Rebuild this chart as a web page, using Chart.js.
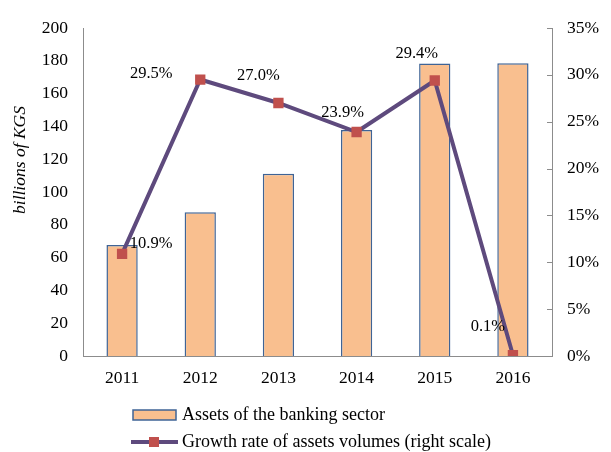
<!DOCTYPE html>
<html><head><meta charset="utf-8">
<script src="https://cdn.jsdelivr.net/npm/chart.js@4/dist/chart.umd.min.js"></script>
<style>html,body{margin:0;padding:0;background:#fff;}#wrap{width:611px;height:452px;}</style>
</head><body><div id="wrap"><canvas id="c" width="611" height="452"></canvas></div>
<script>
const years = ['2011','2012','2013','2014','2015','2016'];
const assets = [67.7, 87.6, 111.2, 137.8, 178.3, 178.5];
const growth = [10.9, 29.5, 27.0, 23.9, 29.4, 0.1];
const assetsLabel = 'Assets of the banking sector';
const growthLabel = 'Growth rate of assets volumes (right scale)';
const leftTitle = 'billions of KGS';

const FONT = '"Liberation Serif", "Times New Roman", serif';
const AXIS = '#8c8c8c';
// label placement offsets (style only)
const labelOffsets = [[29,-10],[-49,-6],[-20,-27],[-14,-19],[-18,-27],[-25,-28]];

const extras = {
  id: 'extras',
  afterDatasetsDraw(chart) {
    const ctx = chart.ctx;
    const meta = chart.getDatasetMeta(1);
    ctx.save();
    ctx.font = '16.5px ' + FONT;
    ctx.fillStyle = '#000';
    ctx.textAlign = 'center';
    ctx.textBaseline = 'middle';
    meta.data.forEach((pt, i) => {
      const o = labelOffsets[i];
      ctx.fillText(growth[i].toFixed(1) + '%', pt.x + o[0], pt.y + o[1]);
    });
    ctx.restore();
  },
  afterDraw(chart) {
    const ctx = chart.ctx;
    const a = chart.chartArea;
    const y1 = chart.scales.y1;
    ctx.save();
    ctx.strokeStyle = AXIS; ctx.lineWidth = 1;
    y1.ticks.forEach(t => {
      const py = Math.round(y1.getPixelForValue(t.value)) + 0.5;
      ctx.beginPath(); ctx.moveTo(a.right - 5, py); ctx.lineTo(a.right, py); ctx.stroke();
    });
    // left axis title
    ctx.save();
    ctx.translate(20, 160);
    ctx.rotate(-Math.PI / 2);
    ctx.font = 'italic 17.5px ' + FONT;
    ctx.fillStyle = '#000';
    ctx.textAlign = 'center';
    ctx.textBaseline = 'middle';
    ctx.fillText(leftTitle, 0, 0);
    ctx.restore();
    // legend
    const ds0 = chart.data.datasets[0], ds1 = chart.data.datasets[1];
    ctx.font = '18px ' + FONT;
    ctx.textBaseline = 'middle';
    ctx.textAlign = 'left';
    const lx = 133, ly1 = 415, ly2 = 442;
    ctx.fillStyle = ds0.backgroundColor;
    ctx.fillRect(lx, ly1 - 5, 43, 10);
    ctx.strokeStyle = ds0.borderColor; ctx.lineWidth = 1.5;
    ctx.strokeRect(lx, ly1 - 5, 43, 10);
    ctx.fillStyle = '#000';
    ctx.fillText(ds0.label, lx + 49, ly1);
    ctx.strokeStyle = ds1.borderColor; ctx.lineWidth = 4;
    ctx.beginPath(); ctx.moveTo(lx - 2, ly2); ctx.lineTo(lx + 45, ly2); ctx.stroke();
    ctx.fillStyle = ds1.pointBackgroundColor;
    ctx.fillRect(lx + 16, ly2 - 5, 10, 10);
    ctx.fillStyle = '#000';
    ctx.fillText(ds1.label, lx + 49, ly2);
    ctx.restore();
  }
};

new Chart(document.getElementById('c'), {
  data: {
    labels: years,
    datasets: [
      { type: 'bar', label: assetsLabel, data: assets, yAxisID: 'y',
        backgroundColor: '#F9BF8F', borderColor: '#3F6496', borderWidth: 1.5,
        barPercentage: 0.4, categoryPercentage: 1.0, order: 2 },
      { type: 'line', label: growthLabel, data: growth, yAxisID: 'y1',
        borderColor: '#5E4A7D', borderWidth: 4, tension: 0,
        pointStyle: 'rect', pointRadius: 7.3, pointBackgroundColor: '#C0504D',
        pointBorderColor: '#C0504D', pointBorderWidth: 0, order: 1 }
    ]
  },
  options: {
    responsive: false, animation: false,
    layout: { padding: { left: 0, right: 0, top: 28, bottom: 56 } },
    plugins: { legend: { display: false }, tooltip: { enabled: false } },
    scales: {
      x: {
        grid: { display: false, drawTicks: false },
        border: { display: true, color: AXIS, width: 1 },
        ticks: { padding: 12, color: '#000', font: { family: FONT, size: 17.5 } },
        afterFit(s) { s.height = 40; }
      },
      y: {
        position: 'left', min: 0, max: 200,
        grid: { display: false, drawTicks: false },
        border: { display: true, color: AXIS, width: 1 },
        ticks: { stepSize: 20, padding: 15, color: '#000', font: { family: FONT, size: 17.5 } },
        afterFit(s) { s.width = 83; }
      },
      y1: {
        position: 'right', min: 0, max: 35,
        grid: { display: false, drawTicks: false },
        border: { display: true, color: AXIS, width: 1 },
        ticks: { stepSize: 5, padding: 15, color: '#000', font: { family: FONT, size: 17.5 },
          callback: v => v + '%' },
        afterFit(s) { s.width = 59; }
      }
    }
  },
  plugins: [extras]
});
</script></body></html>
